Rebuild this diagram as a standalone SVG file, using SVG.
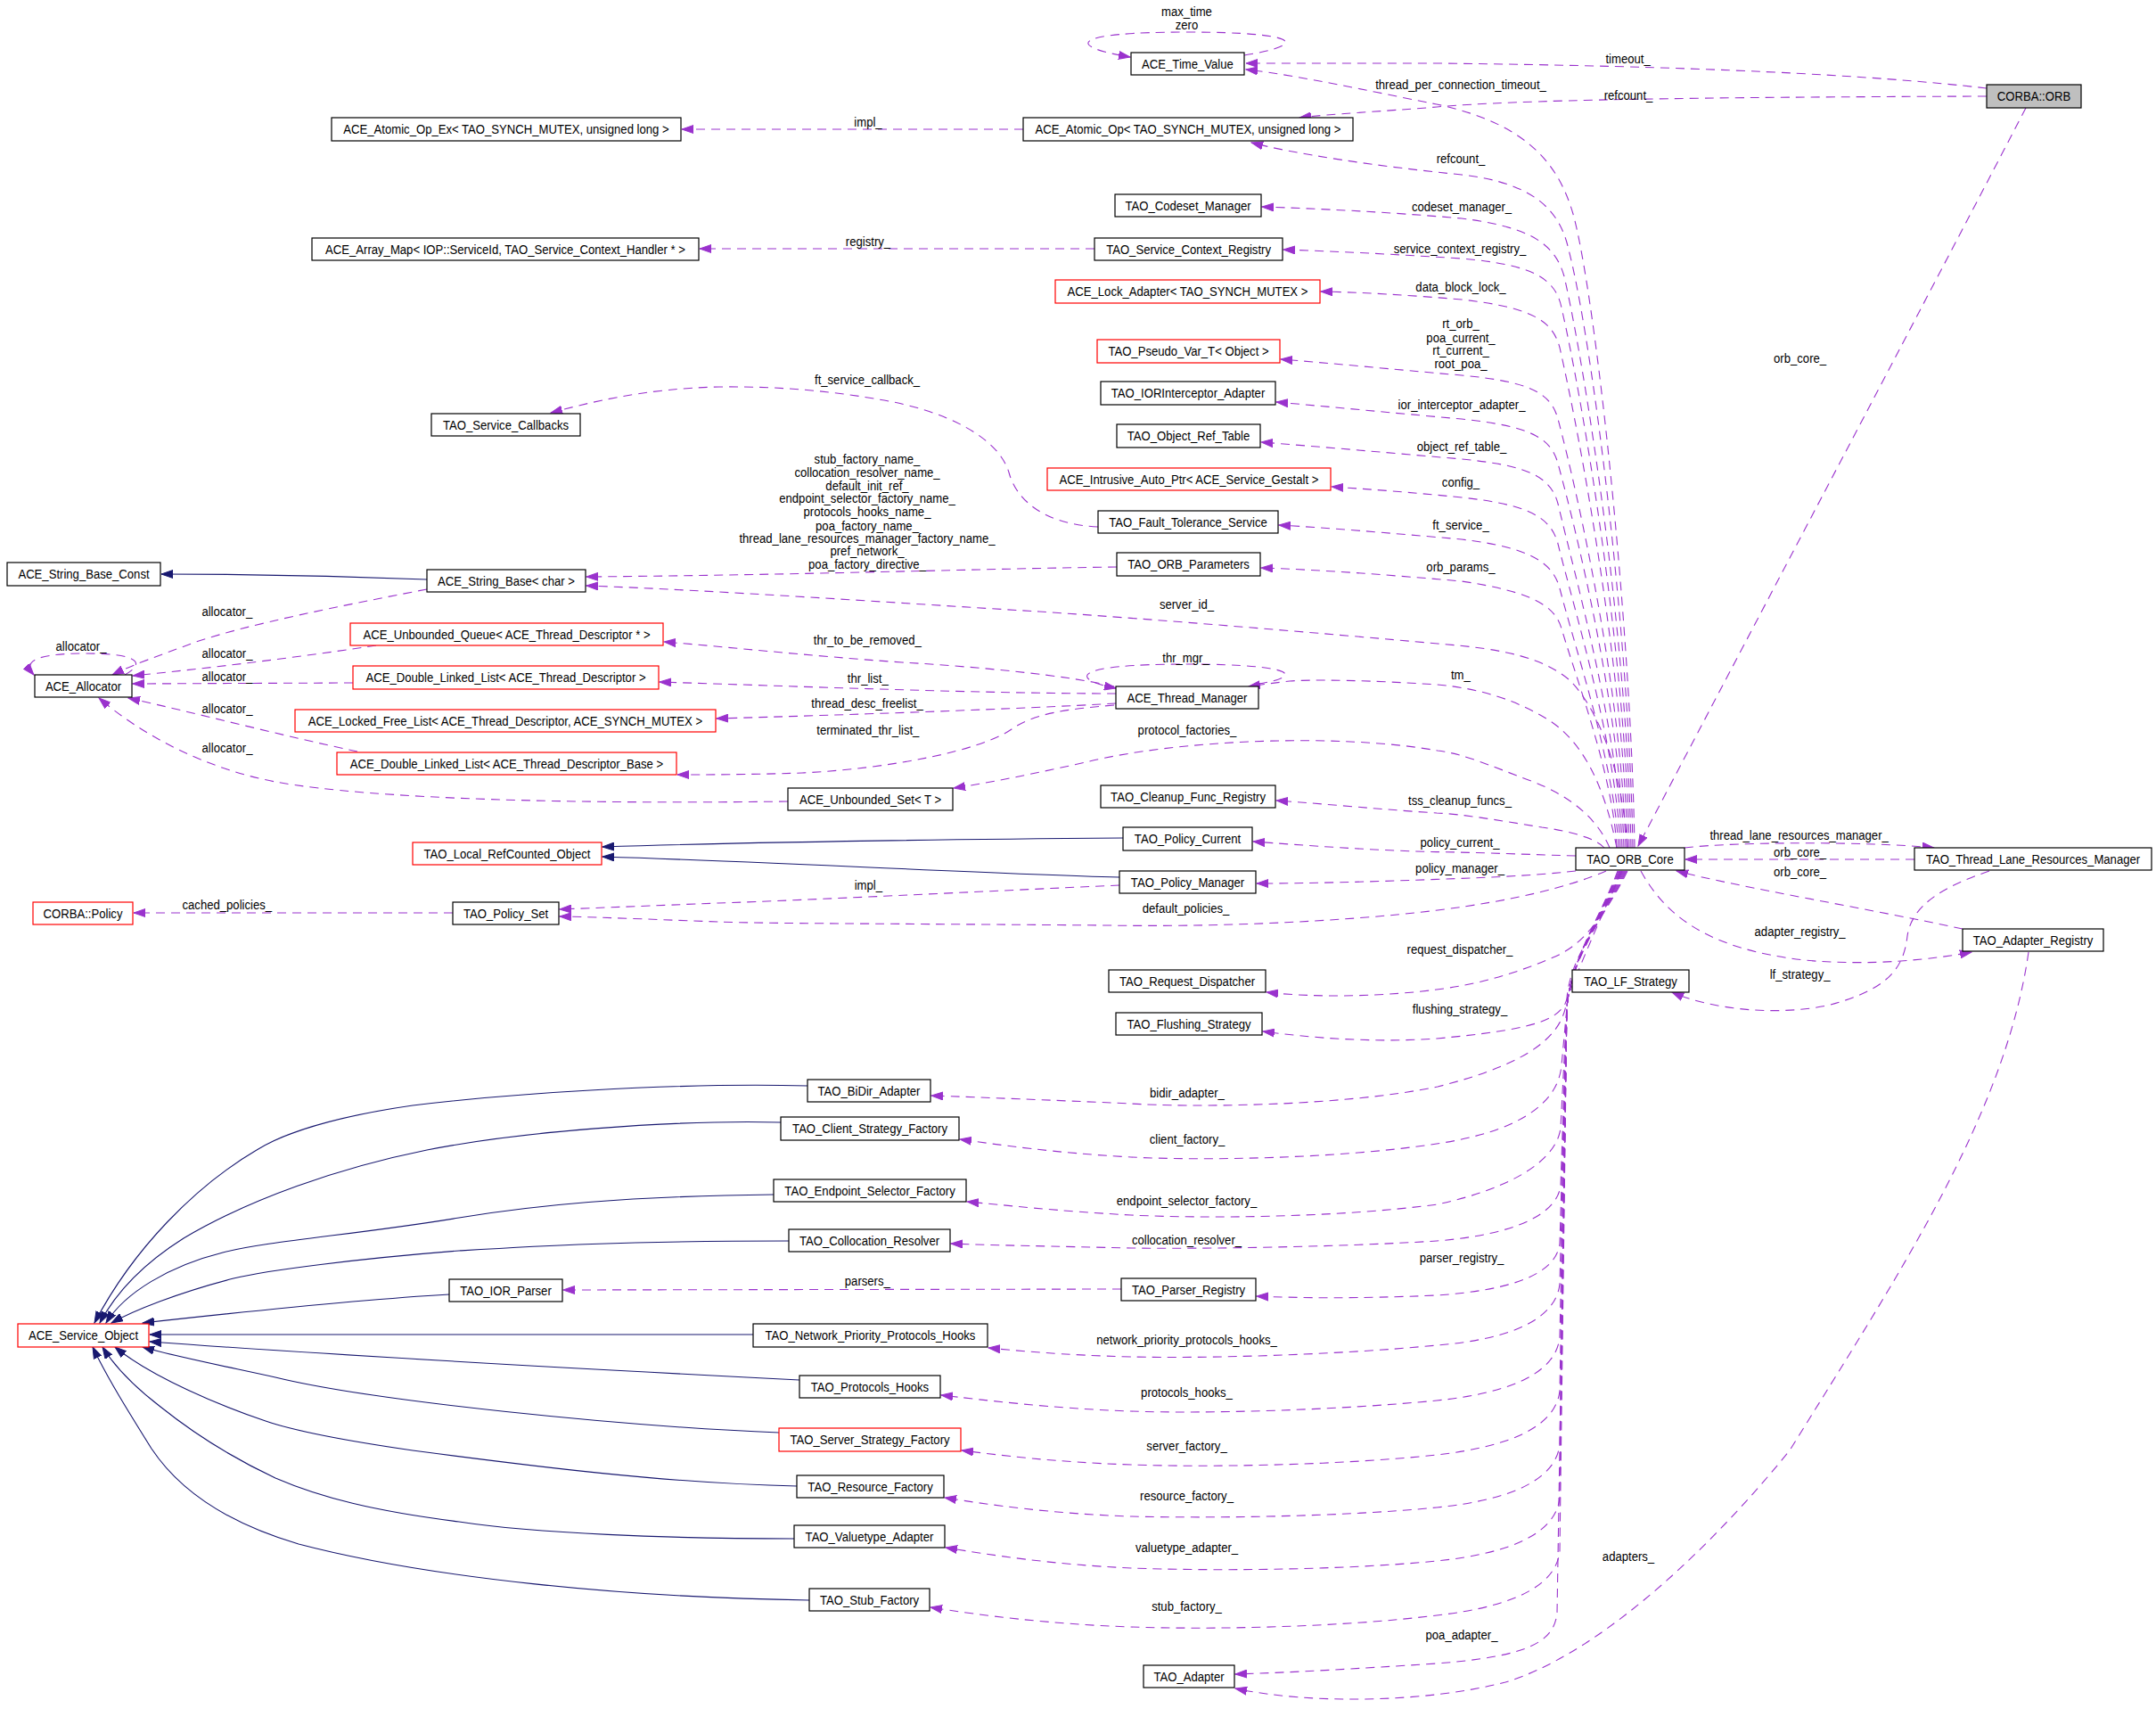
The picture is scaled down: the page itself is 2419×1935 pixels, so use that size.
<svg xmlns="http://www.w3.org/2000/svg" width="2419" height="1935" viewBox="0 0 2419 1935">
<defs>
<style>
.n rect{fill:#fff;stroke:#000;stroke-width:1.2}
.r rect{stroke:#f00}
.g rect{fill:#bfbfbf}
text{font-family:"Liberation Sans",Arial,sans-serif;font-size:15px;fill:#000;text-anchor:middle;transform-box:fill-box;transform-origin:center;transform:scale(0.875,1)}
.u{fill:none;stroke:#9a32cd;stroke-width:1.1;stroke-dasharray:10,7;marker-end:url(#ap)}
.i{fill:none;stroke:#191970;stroke-width:1.1;marker-end:url(#an)}
</style>
<marker id="ap" markerUnits="userSpaceOnUse" markerWidth="14" markerHeight="10" refX="13" refY="5" orient="auto"><path d="M0,0.5 L13,5 L0,9.5 z" fill="#9a32cd" stroke="#9a32cd"/></marker>
<marker id="an" markerUnits="userSpaceOnUse" markerWidth="14" markerHeight="10" refX="13" refY="5" orient="auto"><path d="M0,0.5 L13,5 L0,9.5 z" fill="#191970" stroke="#191970"/></marker>
</defs>
<rect x="0" y="0" width="2419" height="1935" fill="#fff"/>

<g id="connectors">
<path class="u" d="M1396,62 C1470,50 1460,36 1331,36 C1200,36 1195,52 1268,64"/>
<path class="u" d="M2229,99 C2100,84 1900,74 1612,71 L1398,71"/>
<path class="u" d="M1834,951 C1830,700 1790,330 1765,240 C1750,190 1720,140 1612,117 C1540,103 1460,85 1398,78"/>
<path class="u" d="M1148,145 L765,145"/>
<path class="u" d="M2229,108 C1900,109 1700,112 1612,120 C1550,125 1490,128 1458,132"/>
<path class="u" d="M1832,951 C1828,710 1786,380 1760,280 C1750,235 1720,205 1640,196 C1540,186 1450,172 1404,160"/>
<path class="u" d="M1830,951 C1826,720 1780,420 1755,310 C1745,275 1720,255 1640,245 C1560,238 1480,234 1416,232"/>
<path class="u" d="M1228,279 L785,279"/>
<path class="u" d="M1828,951 C1824,740 1778,460 1752,345 C1745,312 1720,297 1640,290 C1560,285 1500,282 1440,280"/>
<path class="u" d="M1826,951 C1822,760 1775,500 1750,390 C1742,360 1720,345 1640,336 C1580,331 1530,328 1482,327"/>
<path class="u" d="M1824,951 C1820,780 1772,560 1748,470 C1740,440 1715,428 1640,421 C1560,414 1500,408 1437,403"/>
<path class="u" d="M1822,951 C1818,800 1770,600 1748,520 C1740,490 1715,478 1640,470 C1560,463 1500,457 1432,451"/>
<path class="u" d="M1820,951 C1816,820 1768,650 1748,565 C1740,535 1715,522 1640,515 C1560,508 1480,501 1415,496"/>
<path class="u" d="M1818,951 C1814,840 1768,690 1748,610 C1740,580 1715,566 1640,558 C1580,552 1540,549 1494,546"/>
<path class="u" d="M1816,951 C1812,860 1768,730 1750,660 C1742,630 1715,614 1640,605 C1560,598 1490,592 1435,589"/>
<path class="u" d="M1232,591 C1170,588 1140,560 1132,530 C1120,490 1060,460 986,448 C940,440 880,433 807,434 C720,436 660,452 618,463"/>
<path class="u" d="M1814,951 C1810,870 1768,760 1752,705 C1745,680 1720,664 1640,652 C1560,645 1480,639 1415,637"/>
<path class="u" d="M1253,636 C1100,638 900,645 658,647"/>
<path class="u" d="M1826,951 C1820,860 1790,790 1760,762 C1730,738 1690,728 1613,722 C1480,710 1300,695 1166,686 C1000,676 800,662 658,657"/>
<path class="i" d="M479,650 C380,646 280,644 181,644"/>
<path class="u" d="M479,661 C380,680 280,700 220,720 C180,735 150,745 126,757"/>
<path class="u" d="M140,757 C162,745 160,733 95,733 C40,733 25,742 38,757"/>
<path class="u" d="M422,724 C330,738 230,750 149,758"/>
<path class="u" d="M396,766 L149,767"/>
<path class="u" d="M401,843 C320,826 220,800 144,783"/>
<path class="u" d="M884,899 C650,902 420,897 309,877 C230,862 160,825 111,783"/>
<path class="u" d="M1412,767 C1460,760 1462,745 1330,745 C1200,745 1200,762 1252,772"/>
<path class="u" d="M1814,951 C1800,880 1775,830 1735,806 C1700,785 1660,772 1612,768 C1540,763 1470,762 1447,764 C1430,766 1415,768 1401,770"/>
<path class="u" d="M1250,770 C1200,758 1100,748 1012,743 C900,735 820,726 745,720"/>
<path class="u" d="M1252,778 C1100,778 900,770 740,765"/>
<path class="u" d="M1252,789 C1150,795 950,802 804,806"/>
<path class="u" d="M1250,791 C1200,795 1160,800 1135,818 C1100,842 1000,862 900,867 C840,869 790,869 760,869"/>
<path class="u" d="M1806,951 C1795,925 1770,895 1715,875 C1670,858 1640,845 1613,842 C1500,822 1320,830 1218,855 C1160,868 1110,878 1070,884"/>
<path class="u" d="M1800,951 C1790,940 1760,932 1730,928 C1680,920 1640,913 1612,912 C1550,908 1490,902 1432,898"/>
<path class="i" d="M1260,940 C1000,942 800,946 676,950"/>
<path class="i" d="M1256,984 C1100,980 900,968 676,961"/>
<path class="u" d="M1768,960 C1700,958 1650,956 1612,955.6 C1540,954 1460,948 1406,944"/>
<path class="u" d="M1768,977 C1740,980 1710,983 1612,986.4 C1540,989 1470,991 1410,991"/>
<path class="u" d="M1256,993 C1100,1000 900,1010 806,1013 C730,1016 680,1018 628,1020"/>
<path class="u" d="M1802,977 C1760,995 1700,1010 1613,1021 C1500,1035 1350,1040 1243,1038 C1000,1036 850,1036 806,1034 C750,1032 680,1029 628,1028"/>
<path class="u" d="M508,1024 L150,1024"/>
<path class="u" d="M2273,121 C2180,300 1990,660 1838,949"/>
<path class="u" d="M1890,951 C1950,944 2100,944 2170,951"/>
<path class="u" d="M2148,964 L1891,964"/>
<path class="u" d="M2202,1042 C2100,1020 1950,995 1881,977"/>
<path class="u" d="M1841,977 C1870,1030 1920,1065 2024,1077 C2100,1084 2170,1076 2212,1068"/>
<path class="u" d="M2232,977 C2180,995 2145,1015 2140,1050 C2136,1085 2120,1110 2050,1128 C1990,1140 1920,1132 1876,1113"/>
<path class="u" d="M1818,977 C1805,1020 1780,1060 1740,1075 C1700,1092 1660,1104 1612,1110 C1560,1117 1480,1120 1421,1113"/>
<path class="u" d="M1820,977 C1795,1030 1770,1090 1756,1126 C1745,1145 1720,1155 1612,1165 C1540,1170 1470,1164 1417,1157"/>
<path class="u" d="M1826,977 C1800,1030 1762,1070 1758,1120 C1755,1160 1720,1192 1613,1219 C1500,1242 1330,1242 1269,1238 C1180,1234 1100,1231 1045,1229"/>
<path class="u" d="M1825,977 C1798,1030 1763,1075 1758,1130 L1752,1195 C1748,1240 1700,1270 1612,1283 C1500,1300 1350,1302 1269,1298 C1180,1293 1120,1284 1077,1278"/>
<path class="u" d="M1824,977 C1797,1030 1763,1075 1758,1130 L1751,1265 C1747,1300 1700,1332 1613,1351 C1500,1366 1350,1367 1269,1363 C1180,1358 1130,1352 1085,1348"/>
<path class="u" d="M1823,977 C1796,1030 1763,1075 1758,1130 L1751,1330 C1747,1362 1700,1385 1612,1392 C1500,1399 1350,1401 1269,1400 C1180,1398 1120,1397 1067,1395"/>
<path class="u" d="M1822,977 C1795,1030 1763,1075 1758,1130 L1750,1395 C1746,1428 1700,1447 1612,1453 C1520,1457 1460,1456 1410,1454"/>
<path class="u" d="M1258,1446 L632,1447"/>
<path class="u" d="M1821,977 C1795,1030 1763,1075 1758,1130 L1750,1440 C1746,1478 1700,1502 1612,1509 C1500,1520 1350,1524 1269,1522 C1190,1520 1140,1515 1109,1512"/>
<path class="u" d="M1820,977 C1795,1030 1763,1075 1758,1130 L1750,1500 C1746,1538 1700,1562 1612,1571 C1500,1582 1350,1586 1269,1583 C1180,1580 1100,1570 1056,1565"/>
<path class="u" d="M1819,977 C1795,1030 1763,1075 1758,1130 L1750,1560 C1746,1598 1700,1622 1612,1632 C1500,1644 1350,1646 1269,1643 C1180,1640 1120,1632 1079,1627"/>
<path class="u" d="M1818,977 C1795,1030 1763,1075 1758,1130 L1750,1620 C1746,1658 1700,1682 1612,1691 C1500,1702 1350,1703 1269,1701 C1180,1698 1110,1688 1060,1680"/>
<path class="u" d="M1817,977 C1795,1030 1763,1075 1758,1130 L1750,1680 C1746,1718 1700,1742 1612,1751 C1500,1762 1350,1762 1269,1759 C1180,1755 1110,1744 1061,1736"/>
<path class="u" d="M1816,977 C1795,1030 1763,1075 1758,1130 L1750,1740 C1746,1778 1700,1802 1612,1812 C1500,1826 1350,1828 1269,1825 C1180,1822 1100,1812 1044,1803"/>
<path class="u" d="M1815,977 C1795,1030 1763,1075 1758,1130 L1747,1810 C1743,1842 1715,1858 1612,1866 C1520,1872 1450,1876 1386,1878"/>
<path class="u" d="M2276,1068 C2250,1250 2130,1430 2008,1627 C1900,1760 1780,1860 1689,1887 C1600,1910 1470,1912 1386,1894"/>
<path class="i" d="M906,1218 C750,1214 560,1228 463,1240 C380,1252 320,1270 288,1290 C220,1330 150,1400 106,1484"/>
<path class="i" d="M876,1259 C750,1256 580,1270 479,1290 C380,1310 280,1345 206,1389 C160,1418 130,1450 112,1484"/>
<path class="i" d="M868,1340 C700,1342 600,1352 515,1366 C400,1385 300,1392 250,1405 C190,1420 140,1450 119,1484"/>
<path class="i" d="M885,1392 C700,1392 600,1398 515,1403 C400,1412 300,1425 262,1434 C200,1450 150,1470 125,1484"/>
<path class="i" d="M504,1452 C400,1458 250,1474 160,1484"/>
<path class="i" d="M845,1497 L168,1497"/>
<path class="i" d="M897,1548 C700,1538 400,1522 168,1505"/>
<path class="i" d="M874,1607 C700,1600 420,1572 309,1545 C240,1530 190,1520 160,1511"/>
<path class="i" d="M894,1667 C750,1664 600,1645 463,1627 C380,1615 330,1605 298,1594 C250,1578 170,1545 129,1511"/>
<path class="i" d="M891,1726 C750,1726 600,1720 515,1707 C420,1695 360,1680 309,1658 C260,1635 220,1610 180,1578 C150,1555 130,1535 115,1511"/>
<path class="i" d="M908,1795 C700,1792 480,1770 335,1732 C250,1707 200,1670 170,1625 C145,1585 120,1545 104,1511"/>
</g>

<g id="connector-labels">
<text x="1331.5" y="18.3">max_time</text>
<text x="1331.5" y="32.7">zero</text>
<text x="1826.6" y="71.3">timeout_</text>
<text x="1639" y="100.1">thread_per_connection_timeout_</text>
<text x="1827" y="111.7">refcount_</text>
<text x="974" y="142.5">impl_</text>
<text x="1639" y="183.2">refcount_</text>
<text x="1640" y="236.7">codeset_manager_</text>
<text x="974" y="276.2">registry_</text>
<text x="1638" y="283.7">service_context_registry_</text>
<text x="1639" y="327.2">data_block_lock_</text>
<text x="1639" y="368.3">rt_orb_</text>
<text x="1639" y="383.6">poa_current_</text>
<text x="1639" y="398.4">rt_current_</text>
<text x="1639" y="412.7">root_poa_</text>
<text x="2019.6" y="407.4">orb_core_</text>
<text x="973" y="431.3">ft_service_callback_</text>
<text x="1640" y="459.2">ior_interceptor_adapter_</text>
<text x="1640" y="506.1">object_ref_table_</text>
<text x="973" y="520.1">stub_factory_name_</text>
<text x="973" y="535.3">collocation_resolver_name_</text>
<text x="973" y="550.2">default_init_ref_</text>
<text x="973" y="564.5">endpoint_selector_factory_name_</text>
<text x="973" y="579.4">protocols_hooks_name_</text>
<text x="973" y="594.6">poa_factory_name_</text>
<text x="973" y="608.6">thread_lane_resources_manager_factory_name_</text>
<text x="973" y="623.3">pref_network_</text>
<text x="973" y="638.2">poa_factory_directive_</text>
<text x="1639" y="546.4">config_</text>
<text x="1639" y="594.2">ft_service_</text>
<text x="1639" y="640.7">orb_params_</text>
<text x="1331.5" y="683">server_id_</text>
<text x="254.8" y="691.2">allocator_</text>
<text x="973.3" y="723.3">thr_to_be_removed_</text>
<text x="91" y="730.3">allocator_</text>
<text x="255" y="738.1">allocator_</text>
<text x="1330.5" y="743.5">thr_mgr_</text>
<text x="1638.8" y="762">tm_</text>
<text x="255" y="764.1">allocator_</text>
<text x="973.8" y="766.1">thr_list_</text>
<text x="973" y="794.1">thread_desc_freelist_</text>
<text x="255" y="800.3">allocator_</text>
<text x="973.8" y="824.1">terminated_thr_list_</text>
<text x="1332" y="824.1">protocol_factories_</text>
<text x="255" y="844.3">allocator_</text>
<text x="1638" y="903.1">tss_cleanup_funcs_</text>
<text x="2018.6" y="942.4">thread_lane_resources_manager_</text>
<text x="1638" y="950.4">policy_current_</text>
<text x="2019.6" y="961.5">orb_core_</text>
<text x="1638" y="978.7">policy_manager_</text>
<text x="2019.6" y="983.3">orb_core_</text>
<text x="974.3" y="998.1">impl_</text>
<text x="254.8" y="1020.3">cached_policies_</text>
<text x="1330.5" y="1024">default_policies_</text>
<text x="2019.6" y="1050.4">adapter_registry_</text>
<text x="1638" y="1070.1">request_dispatcher_</text>
<text x="2019.6" y="1098.5">lf_strategy_</text>
<text x="1638" y="1136.7">flushing_strategy_</text>
<text x="1332" y="1231.4">bidir_adapter_</text>
<text x="1332" y="1283.2">client_factory_</text>
<text x="1331.5" y="1352.3">endpoint_selector_factory_</text>
<text x="1331.5" y="1396.3">collocation_resolver_</text>
<text x="1640" y="1416.5">parser_registry_</text>
<text x="973.3" y="1442.4">parsers_</text>
<text x="1331.5" y="1508.2">network_priority_protocols_hooks_</text>
<text x="1331.5" y="1567.4">protocols_hooks_</text>
<text x="1331.5" y="1627.5">server_factory_</text>
<text x="1331.5" y="1683.4">resource_factory_</text>
<text x="1331.5" y="1740.6">valuetype_adapter_</text>
<text x="1827" y="1751.3">adapters_</text>
<text x="1331.5" y="1807.3">stub_factory_</text>
<text x="1640" y="1839.3">poa_adapter_</text>
</g>

<g id="n1" class="n"><rect x="1269" y="59" width="127" height="25"/><text x="1332.5" y="76.7">ACE_Time_Value</text></g>
<g id="n2" class="n g"><rect x="2229" y="95" width="106" height="26"/><text x="2282" y="113.2">CORBA::ORB</text></g>
<g id="n3" class="n"><rect x="372" y="132" width="392" height="26"/><text x="568" y="150.2">ACE_Atomic_Op_Ex&lt; TAO_SYNCH_MUTEX, unsigned long &gt;</text></g>
<g id="n4" class="n"><rect x="1148" y="132" width="370" height="26"/><text x="1333" y="150.2">ACE_Atomic_Op&lt; TAO_SYNCH_MUTEX, unsigned long &gt;</text></g>
<g id="n5" class="n"><rect x="1251" y="218" width="164" height="25"/><text x="1333" y="235.7">TAO_Codeset_Manager</text></g>
<g id="n6" class="n"><rect x="350" y="267" width="434" height="25"/><text x="567" y="284.7">ACE_Array_Map&lt; IOP::ServiceId, TAO_Service_Context_Handler * &gt;</text></g>
<g id="n7" class="n"><rect x="1228" y="267" width="211" height="25"/><text x="1333.5" y="284.7">TAO_Service_Context_Registry</text></g>
<g id="n8" class="n r"><rect x="1184" y="314" width="297" height="26"/><text x="1332.5" y="332.2">ACE_Lock_Adapter&lt; TAO_SYNCH_MUTEX &gt;</text></g>
<g id="n9" class="n r"><rect x="1231" y="381" width="205" height="26"/><text x="1333.5" y="399.2">TAO_Pseudo_Var_T&lt; Object &gt;</text></g>
<g id="n10" class="n"><rect x="1235" y="428" width="196" height="26"/><text x="1333" y="446.2">TAO_IORInterceptor_Adapter</text></g>
<g id="n11" class="n"><rect x="1253" y="476" width="161" height="26"/><text x="1333.5" y="494.2">TAO_Object_Ref_Table</text></g>
<g id="n12" class="n r"><rect x="1175" y="525" width="318" height="25"/><text x="1334" y="542.7">ACE_Intrusive_Auto_Ptr&lt; ACE_Service_Gestalt &gt;</text></g>
<g id="n13" class="n"><rect x="1232" y="573" width="202" height="25"/><text x="1333" y="590.7">TAO_Fault_Tolerance_Service</text></g>
<g id="n14" class="n"><rect x="484" y="464" width="167" height="25"/><text x="567.5" y="481.7">TAO_Service_Callbacks</text></g>
<g id="n15" class="n"><rect x="1253" y="620" width="161" height="26"/><text x="1333.5" y="638.2">TAO_ORB_Parameters</text></g>
<g id="n16" class="n"><rect x="8" y="631" width="172" height="26"/><text x="94" y="649.2">ACE_String_Base_Const</text></g>
<g id="n17" class="n"><rect x="479" y="639" width="178" height="25"/><text x="568" y="656.7">ACE_String_Base&lt; char &gt;</text></g>
<g id="n18" class="n"><rect x="39" y="757" width="109" height="25"/><text x="93.5" y="774.7">ACE_Allocator</text></g>
<g id="n19" class="n r"><rect x="393" y="699" width="351" height="25"/><text x="568.5" y="716.7">ACE_Unbounded_Queue&lt; ACE_Thread_Descriptor * &gt;</text></g>
<g id="n20" class="n r"><rect x="396" y="747" width="343" height="26"/><text x="567.5" y="765.2">ACE_Double_Linked_List&lt; ACE_Thread_Descriptor &gt;</text></g>
<g id="n21" class="n r"><rect x="331" y="796" width="472" height="25"/><text x="567" y="813.7">ACE_Locked_Free_List&lt; ACE_Thread_Descriptor, ACE_SYNCH_MUTEX &gt;</text></g>
<g id="n22" class="n r"><rect x="378" y="844" width="381" height="25"/><text x="568.5" y="861.7">ACE_Double_Linked_List&lt; ACE_Thread_Descriptor_Base &gt;</text></g>
<g id="n23" class="n"><rect x="1252" y="770" width="160" height="25"/><text x="1332" y="787.7">ACE_Thread_Manager</text></g>
<g id="n24" class="n"><rect x="884" y="884" width="185" height="25"/><text x="976.5" y="901.7">ACE_Unbounded_Set&lt; T &gt;</text></g>
<g id="n25" class="n"><rect x="1235" y="881" width="196" height="25"/><text x="1333" y="898.7">TAO_Cleanup_Func_Registry</text></g>
<g id="n26" class="n r"><rect x="463" y="945" width="212" height="25"/><text x="569" y="962.7">TAO_Local_RefCounted_Object</text></g>
<g id="n27" class="n"><rect x="1260" y="928" width="145" height="26"/><text x="1332.5" y="946.2">TAO_Policy_Current</text></g>
<g id="n28" class="n"><rect x="1256" y="977" width="153" height="25"/><text x="1332.5" y="994.7">TAO_Policy_Manager</text></g>
<g id="n29" class="n r"><rect x="37" y="1012" width="112" height="25"/><text x="93" y="1029.7">CORBA::Policy</text></g>
<g id="n30" class="n"><rect x="508" y="1012" width="119" height="25"/><text x="567.5" y="1029.7">TAO_Policy_Set</text></g>
<g id="n31" class="n"><rect x="1768" y="951" width="122" height="25"/><text x="1829" y="968.7">TAO_ORB_Core</text></g>
<g id="n32" class="n"><rect x="2148" y="951" width="266" height="25"/><text x="2281" y="968.7">TAO_Thread_Lane_Resources_Manager</text></g>
<g id="n33" class="n"><rect x="2202" y="1042" width="158" height="25"/><text x="2281" y="1059.7">TAO_Adapter_Registry</text></g>
<g id="n34" class="n"><rect x="1764" y="1088" width="131" height="25"/><text x="1829.5" y="1105.7">TAO_LF_Strategy</text></g>
<g id="n35" class="n"><rect x="1244" y="1088" width="176" height="25"/><text x="1332" y="1105.7">TAO_Request_Dispatcher</text></g>
<g id="n36" class="n"><rect x="1252" y="1136" width="164" height="25"/><text x="1334" y="1153.7">TAO_Flushing_Strategy</text></g>
<g id="n37" class="n"><rect x="906" y="1211" width="138" height="25"/><text x="975" y="1228.7">TAO_BiDir_Adapter</text></g>
<g id="n38" class="n"><rect x="876" y="1253" width="200" height="26"/><text x="976" y="1271.2">TAO_Client_Strategy_Factory</text></g>
<g id="n39" class="n"><rect x="868" y="1323" width="216" height="25"/><text x="976" y="1340.7">TAO_Endpoint_Selector_Factory</text></g>
<g id="n40" class="n"><rect x="885" y="1379" width="181" height="25"/><text x="975.5" y="1396.7">TAO_Collocation_Resolver</text></g>
<g id="n41" class="n"><rect x="504" y="1435" width="127" height="25"/><text x="567.5" y="1452.7">TAO_IOR_Parser</text></g>
<g id="n42" class="n"><rect x="1258" y="1434" width="151" height="25"/><text x="1333.5" y="1451.7">TAO_Parser_Registry</text></g>
<g id="n43" class="n r"><rect x="20" y="1485" width="147" height="26"/><text x="93.5" y="1503.2">ACE_Service_Object</text></g>
<g id="n44" class="n"><rect x="845" y="1485" width="263" height="26"/><text x="976.5" y="1503.2">TAO_Network_Priority_Protocols_Hooks</text></g>
<g id="n45" class="n"><rect x="897" y="1543" width="158" height="25"/><text x="976" y="1560.7">TAO_Protocols_Hooks</text></g>
<g id="n46" class="n r"><rect x="874" y="1602" width="204" height="26"/><text x="976" y="1620.2">TAO_Server_Strategy_Factory</text></g>
<g id="n47" class="n"><rect x="894" y="1655" width="165" height="25"/><text x="976.5" y="1672.7">TAO_Resource_Factory</text></g>
<g id="n48" class="n"><rect x="891" y="1711" width="169" height="25"/><text x="975.5" y="1728.7">TAO_Valuetype_Adapter</text></g>
<g id="n49" class="n"><rect x="908" y="1782" width="135" height="25"/><text x="975.5" y="1799.7">TAO_Stub_Factory</text></g>
<g id="n50" class="n"><rect x="1283" y="1868" width="102" height="25"/><text x="1334" y="1885.7">TAO_Adapter</text></g>
</svg>
